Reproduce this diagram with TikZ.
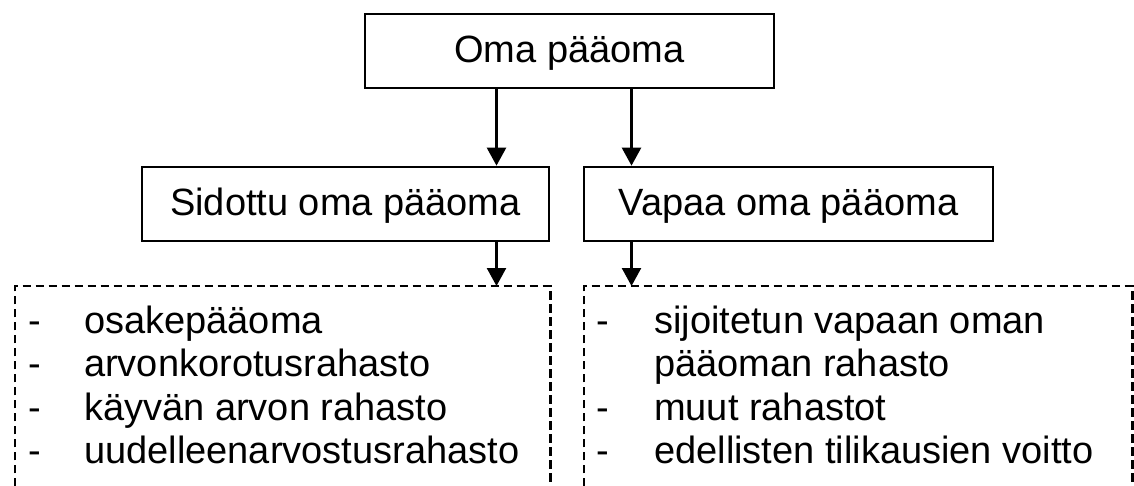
\documentclass[tikz,border=0pt]{standalone}
\usepackage{fontspec}
\setmainfont{Liberation Sans}
\usetikzlibrary{arrows.meta}
\begin{document}
\begin{tikzpicture}[x=1pt,y=-1pt,
  box/.style={draw, line width=2.7pt, inner sep=0pt, minimum height=74pt,
    text height=24pt, text depth=0pt, font=\fontsize{38}{44}\selectfont},
  listarea/.style={inner sep=0pt, minimum height=200pt, anchor=north west},
  item/.style={inner sep=0pt, anchor=base west, font=\fontsize{38}{44}\selectfont},
  conn/.style={line width=2.5pt, -{Triangle[width=19pt,length=18pt]}},
  dashline/.style={line width=2.8pt, dash pattern=on 8.5pt off 4.5pt}]
\useasboundingbox (0,0) rectangle (1134,486);

% boxes
\node[box, minimum width=409pt] (top) at (569.5,51) {Oma pääoma};
\node[box, minimum width=407pt] (sid) at (345.5,204) {Sidottu oma pääoma};
\node[box, minimum width=409pt] (vap) at (788.5,204) {Vapaa oma pääoma};

% dashed list areas
\node[listarea, minimum width=535pt] (dl) at (15,286) {};
\node[listarea, minimum width=548pt] (dr) at (584,286) {};
\draw[dashline] (dl.south west) -- (dl.north west) -- (dl.north east) -- (dl.south east);
\draw[dashline] (dr.south west) -- (dr.north west) -- (dr.north east) -- (dr.south east);

% connectors
\coordinate (ax1) at (496.5,0);
\coordinate (ax2) at (631.5,0);
\draw[conn] (top.south -| ax1) -- (sid.north -| ax1);
\draw[conn] (top.south -| ax2) -- (vap.north -| ax2);
\draw[conn] (sid.south -| ax1) -- (dl.north -| ax1);
\draw[conn] (vap.south -| ax2) -- (dr.north -| ax2);

% left list
\node[item] (ld1) at (28,333) {-};
\node[item] (lt1) at (84,333) {osakepääoma};
\node[item] (ld2) at (28,376.5) {-};
\node[item] (lt2) at (84,376.5) {arvonkorotusrahasto};
\node[item] (ld3) at (28,420) {-};
\node[item] (lt3) at (84,420) {käyvän arvon rahasto};
\node[item] (ld4) at (28,463.5) {-};
\node[item] (lt4) at (84,463.5) {uudelleenarvostusrahasto};

% right list
\node[item] (rd1) at (596,333) {-};
\node[item] (rt1) at (654,333) {sijoitetun vapaan oman};
\node[item] (rt1b) at (654,376.5) {pääoman rahasto};
\node[item] (rd3) at (596,420) {-};
\node[item] (rt3) at (654,420) {muut rahastot};
\node[item] (rd4) at (596,463.5) {-};
\node[item] (rt4) at (654,463.5) {edellisten tilikausien voitto};
\end{tikzpicture}
\end{document}
